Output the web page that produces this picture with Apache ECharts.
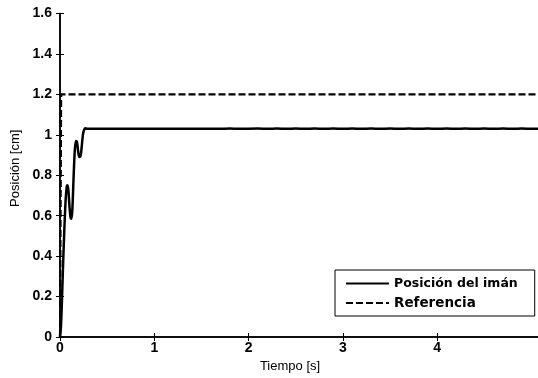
<!DOCTYPE html>
<html>
<head>
<meta charset="utf-8">
<script src="https://cdn.jsdelivr.net/npm/echarts@6/dist/echarts.min.js"></script>
<style>
  html, body { margin: 0; padding: 0; background: #fff; }
  #chart { width: 538px; height: 378px; }
</style>
</head>
<body>
<div id="chart"></div>
<script>
// respuesta del imán (tiempo en s, posición en cm)
const tiempo = [
  0, 0.01, 0.02, 0.03, 0.045, 0.06, 0.072, 0.08, 0.09, 0.1, 0.112, 0.122, 0.132,
  0.145, 0.158, 0.17, 0.18, 0.192, 0.205, 0.218, 0.23, 0.243, 0.256, 0.27, 0.285,
  0.4, 0.5, 0.6, 0.7, 0.8, 0.9, 1.0, 1.1, 1.2, 1.3, 1.4, 1.5, 1.6, 1.7, 1.8, 1.9,
  2.0, 2.1, 2.2, 2.3, 2.4, 2.5, 2.6, 2.7, 2.8, 2.9, 3.0, 3.1, 3.2, 3.3, 3.4, 3.5,
  3.6, 3.7, 3.8, 3.9, 4.0, 4.1, 4.2, 4.3, 4.4, 4.5, 4.6, 4.7, 4.8, 4.9, 5.0, 5.07
];
const posicion = [
  0, 0.05, 0.17, 0.32, 0.52, 0.68, 0.745, 0.75, 0.72, 0.65, 0.59, 0.585, 0.64,
  0.8, 0.93, 0.97, 0.965, 0.92, 0.89, 0.895, 0.94, 1.0, 1.025, 1.032, 1.03,
  1.03, 1.03, 1.0305, 1.03, 1.03, 1.0305, 1.03, 1.0295, 1.0305, 1.03, 1.0305, 1.0295, 1.0305, 1.03, 1.031, 1.0295,
  1.0305, 1.031, 1.0295, 1.031, 1.03, 1.031, 1.0295, 1.031, 1.03, 1.031, 1.0295, 1.031, 1.03, 1.031, 1.0295, 1.031,
  1.03, 1.031, 1.0295, 1.031, 1.03, 1.031, 1.0295, 1.031, 1.03, 1.031, 1.0295, 1.031, 1.03, 1.031, 1.03, 1.0305
];
// escalón de referencia
const refTiempo = [0, 0.012, 0.012, 5.07];
const refValor = [0, 0, 1.2, 1.2];

const xTicks = [0, 1, 2, 3, 4];
const yTicks = [0, 0.2, 0.4, 0.6, 0.8, 1, 1.2, 1.4, 1.6];

const zip = (a, b) => a.map((v, i) => [v, b[i]]);

const chart = echarts.init(document.getElementById("chart"));

const axisLine = {show: true, lineStyle: {color: "#000", width: 1.5}};
const tick = {show: true, inside: true, length: 4, lineStyle: {color: "#000", width: 1}};
const tickFont = {color: "#000", fontFamily: "Liberation Sans", fontWeight: "bold", fontSize: 14};

chart.setOption({
    animation: false,
    backgroundColor: "#fff",
    grid: {left: 60, top: 13.5, right: 0, bottom: 36},
    xAxis: [
        {
            type: "value", min: 0, max: 5.07, position: "bottom",
            axisLine: axisLine, splitLine: {show: false},
            axisTick: Object.assign({customValues: xTicks}, tick),
            axisLabel: Object.assign({margin: 4, customValues: xTicks}, tickFont),
            name: "Tiempo [s]", nameLocation: "middle", nameGap: 23,
            nameTextStyle: {color: "#000", fontFamily: "Liberation Sans", fontSize: 13, padding: [0, 18, 0, 0]}
        },
        {
            type: "value", min: 0, max: 5.07, position: "top",
            axisLine: axisLine, axisTick: Object.assign({customValues: xTicks}, tick),
            axisLabel: {show: false}, splitLine: {show: false}
        }
    ],
    yAxis: [
        {
            type: "value", min: yTicks[0], max: yTicks[yTicks.length - 1], interval: 0.2,
            axisLine: axisLine, axisTick: tick, splitLine: {show: false},
            axisLabel: Object.assign({margin: 8}, tickFont),
            name: "Posición [cm]", nameLocation: "middle", nameGap: 38,
            nameTextStyle: {color: "#000", fontFamily: "Liberation Sans", fontSize: 13, padding: [0, 0, 0, 14]}
        },
        {
            type: "value", min: yTicks[0], max: yTicks[yTicks.length - 1], interval: 0.2, position: "right",
            axisLine: axisLine, axisTick: tick, axisLabel: {show: false}, splitLine: {show: false}
        }
    ],
    legend: {
        orient: "vertical",
        left: 335, top: 270,
        padding: [7, 17, 6, 10],
        itemWidth: 43, itemHeight: 14, itemGap: 6,
        backgroundColor: "#fff",
        borderColor: "#000", borderWidth: 1,
        itemStyle: {opacity: 0},
        data: ["Posición del imán", "Referencia"],
        formatter: name => name === "Referencia" ? "{b|" + name + "}" : "{a|" + name + "}",
        textStyle: {
            color: "#000",
            rich: {
                a: {fontFamily: "DejaVu Sans", fontWeight: "bold", fontSize: 12.5, lineHeight: 14},
                b: {fontFamily: "DejaVu Sans", fontWeight: "bold", fontSize: 13.5, lineHeight: 14}
            }
        }
    },
    series: [
        {
            name: "Posición del imán",
            type: "line",
            data: zip(tiempo, posicion),
            symbol: "none",
            smooth: 0.3,
            lineStyle: {color: "#000", width: 2.5},
            itemStyle: {color: "#000"}
        },
        {
            name: "Referencia",
            type: "line",
            data: zip(refTiempo, refValor),
            symbol: "none",
            lineStyle: {color: "#000", width: 2.2, type: [7, 3]},
            itemStyle: {color: "#000"}
        }
    ]
});
</script>
</body>
</html>
